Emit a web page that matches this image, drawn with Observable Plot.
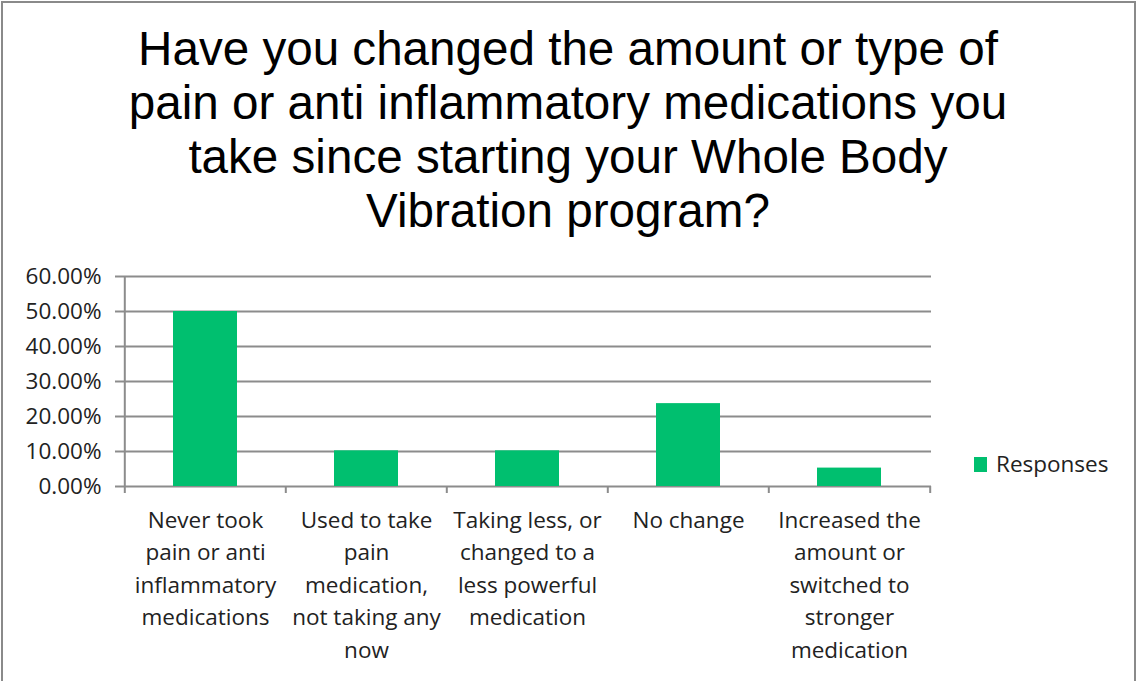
<!DOCTYPE html>
<html>
<head>
<meta charset="utf-8">
<script src="https://cdn.jsdelivr.net/npm/d3@7"></script>
<script src="https://cdn.jsdelivr.net/npm/@observablehq/plot@0.6"></script>
<style>
html, body { margin: 0; padding: 0; background: #fff; overflow: hidden; }
#wrap { position: relative; width: 1136px; height: 681px; overflow: hidden; background: #fff; }
#border { position: absolute; left: 1px; top: 1px; width: 1135px; height: 720px; border: 2px solid #8a8a8a; box-sizing: border-box; }
#title { position: absolute; left: 0; top: 22px; width: 1136px; text-align: center;
  font-family: "Liberation Sans", Arial, sans-serif; font-size: 47.6px; line-height: 54px; color: #000; }
#chart { position: absolute; left: 0; top: 0; }
#legend-swatch { position: absolute; left: 974px; top: 457px; width: 13px; height: 15px; background: #00BF6F; }
#legend-text { position: absolute; left: 996px; top: 449px; font-family: "Open Sans", sans-serif; font-size: 22.5px; line-height: 30px; color: #222; white-space: nowrap; }
</style>
</head>
<body>
<div id="wrap">
  <div id="border"></div>
  <div id="chart"></div>
  <div id="title">Have you changed the amount or type of<br>pain or anti inflammatory medications you<br>take since starting your Whole Body<br>Vibration program?</div>
  <div id="legend-swatch"></div>
  <div id="legend-text">Responses</div>
</div>
<script>
const categories = [
  "Never took pain or anti inflammatory medications",
  "Used to take pain medication, not taking any now",
  "Taking less, or changed to a less powerful medication",
  "No change",
  "Increased the amount or switched to stronger medication"
];
const tickLabels = [
  "Never took\npain or anti\ninflammatory\nmedications",
  "Used to take\npain\nmedication,\nnot taking any\nnow",
  "Taking less, or\nchanged to a\nless powerful\nmedication",
  "No change",
  "Increased the\namount or\nswitched to\nstronger\nmedication"
];
const values = [0.50, 0.102, 0.102, 0.2368, 0.0526];
const yTicks = [0, 0.1, 0.2, 0.3, 0.4, 0.5, 0.6];
const seriesName = "Responses";

const W = 1136, H = 681, mL = 124, mR = 205, mT = 276, mB = 195;
const step = (W - mL - mR) / categories.length;
const gridColor = "#8c8c8c";
const barColor = "#00BF6F";
const data = categories.map((c, i) => ({category: c, value: values[i]}));

const chart = Plot.plot({
  width: W,
  height: H,
  marginLeft: mL,
  marginRight: mR,
  marginTop: mT,
  marginBottom: mB,
  style: {fontFamily: '"Open Sans", sans-serif', fontSize: "22.5px", color: "#222", background: "transparent", overflow: "visible"},
  x: {domain: categories, paddingInner: 0.6, paddingOuter: 0.3, label: null},
  y: {domain: [0, 0.6], label: null},
  marks: [
    Plot.gridY(yTicks, {stroke: gridColor, strokeOpacity: 1, strokeWidth: 2}),
    Plot.axisY(yTicks, {tickSize: 9, tickPadding: 14, tickFormat: d3.format(".2%"), stroke: gridColor, strokeWidth: 2, label: null}),
    Plot.barY(data, {x: "category", y: "value", fill: barColor}),
    Plot.ruleX([categories[0]], {x: d => d, dx: -step / 2, y1: 0, y2: 0.6, stroke: gridColor, strokeWidth: 2}),
    Plot.ruleX(categories, {x: d => d, dx: -step / 2, y1: 0, y2: 0, insetBottom: -7, stroke: gridColor, strokeWidth: 2}),
    Plot.ruleX([categories[categories.length - 1]], {x: d => d, dx: step / 2, y1: 0, y2: 0, insetBottom: -7, stroke: gridColor, strokeWidth: 2}),
    Plot.axisX({tickSize: 0, tickPadding: 18, tickFormat: d => tickLabels[categories.indexOf(d)], lineHeight: 1.444, label: null})
  ]
});
document.getElementById("chart").appendChild(chart);
document.getElementById("legend-text").textContent = seriesName;
document.getElementById("legend-swatch").style.background = barColor;
</script>
</body>
</html>
